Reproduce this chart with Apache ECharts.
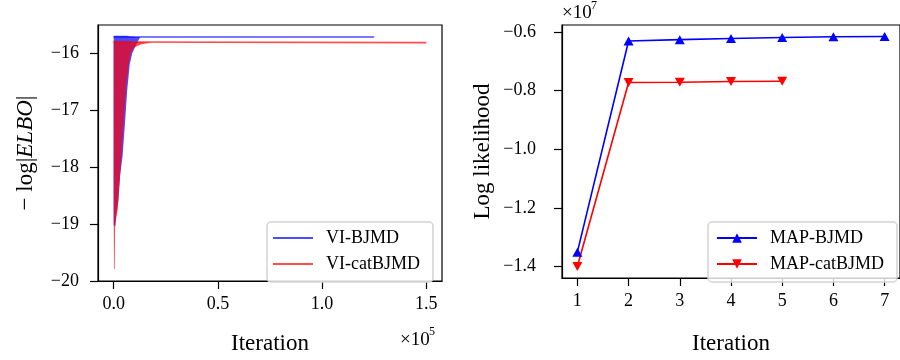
<!DOCTYPE html>
<html>
<head>
<meta charset="utf-8">
<script src="https://cdn.jsdelivr.net/npm/echarts@6/dist/echarts.min.js"></script>
<style>
  html, body { margin: 0; padding: 0; background: #fff; }
  #chart { width: 900px; height: 360px; }
</style>
</head>
<body>
<div id="chart"></div>
<script>
// ---- left panel: -log|ELBO| traces ----
var elboTicksX = [0, 50000, 100000, 150000];
var elboTicksY = [-20, -19, -18, -17, -16];

// noisy start: band between lower and upper envelope
var viBandIter  = [0, 800, 1300, 2200, 3100, 4300, 5400, 6500, 7700, 8900, 10500, 12500];
var viBandLow   = [-19.03, -19.03, -18.8, -18.6, -18.15, -17.8, -17.25, -16.65, -16.2, -16.0, -15.87, -15.73];
var viBandHigh  = [-15.69, -15.69, -15.69, -15.69, -15.69, -15.69, -15.69, -15.69, -15.7, -15.7, -15.71, -15.71];
var catBandIter = [0, 150, 500, 700, 1200, 2000, 2900, 4000, 5000, 6100, 7400, 8500, 10100, 13300, 18100];
var catBandLow  = [-18.4, -19.79, -19.79, -19.05, -18.9, -18.74, -18.24, -17.66, -17.1, -16.54, -16.14, -15.97, -15.89, -15.84, -15.81];
var catBandHigh = [-15.78, -15.78, -15.78, -15.78, -15.78, -15.78, -15.79, -15.79, -15.79, -15.79, -15.79, -15.8, -15.8, -15.8, -15.81];

// converged part
var viLineIter  = [0, 125000];
var viLineVal   = [-15.71, -15.71];
var catLineIter = [0, 150000];
var catLineVal  = [-15.8, -15.81];

// ---- right panel: MAP log likelihood ----
var mapTicksX = [1, 2, 3, 4, 5, 6, 7];
var mapTicksY = [-14000000, -12000000, -10000000, -8000000, -6000000];
var mapIterBJMD = [1, 2, 3, 4, 5, 6, 7];
var mapBJMD = [-13510000, -6306000, -6260000, -6220000, -6185000, -6163000, -6153000];
var mapIterCat = [1, 2, 3, 4, 5];
var mapCat = [-14000000, -7724000, -7714000, -7690000, -7680000];

var FONT = '"Liberation Serif", "Times New Roman", serif';
var BLUE_A = 'rgba(0,0,255,0.7)';
var RED_A = 'rgba(255,0,0,0.7)';

function minus(s) { return String(s).replace('-', '\u2212'); }
function pairs(xs, ys) { return xs.map(function (x, i) { return [x, ys[i]]; }); }

function bandSeries(xs, lo, hi, color) {
  return {
    type: 'custom',
    xAxisIndex: 0, yAxisIndex: 0,
    silent: true,
    clip: true,
    data: [0],
    renderItem: function (params, api) {
      var pts = [];
      for (var i = 0; i < xs.length; i++) pts.push(api.coord([xs[i], hi[i]]));
      for (var j = xs.length - 1; j >= 0; j--) pts.push(api.coord([xs[j], lo[j]]));
      return { type: 'polygon', shape: { points: pts }, style: { fill: color } };
    }
  };
}

function axisCommon(ticks, fmt, margin) {
  return {
    axisLine: { show: true, onZero: false, lineStyle: { color: '#000', width: 1.2 } },
    axisTick: { show: true, length: 8, customValues: ticks, lineStyle: { color: '#000', width: 1.2 } },
    axisLabel: { customValues: ticks, color: '#000', fontFamily: FONT, fontSize: 18, margin: margin, formatter: fmt },
    splitLine: { show: false }
  };
}

var chart = echarts.init(document.getElementById('chart'), null, { renderer: 'canvas' });

var nameStyle = { fontFamily: FONT, fontSize: 23, color: '#000' };

var xLeft = Object.assign(axisCommon(elboTicksX, function (v) { return (v / 1e5).toFixed(1); }, 14), {
  type: 'value', gridIndex: 0, min: -7500, max: 157500,
  name: 'Iteration', nameLocation: 'middle', nameGap: 51, nameTextStyle: nameStyle
});

var yLeft = Object.assign(axisCommon(elboTicksY, function (v) { return minus(v); }, 19), {
  type: 'value', gridIndex: 0, min: -20, max: -15.5,
  name: '\u2212 log|{it|ELBO}|', nameLocation: 'middle', nameGap: 61,
  nameTextStyle: {
    fontFamily: FONT, fontSize: 23, color: '#000',
    rich: { it: { fontFamily: FONT, fontSize: 23, fontStyle: 'italic', color: '#000' } }
  }
});

var xRight = Object.assign(axisCommon(mapTicksX, function (v) { return String(v); }, 14), {
  type: 'value', gridIndex: 1, min: 0.7, max: 7.3,
  name: 'Iteration', nameLocation: 'middle', nameGap: 54, nameTextStyle: nameStyle
});

var yRight = Object.assign(axisCommon(mapTicksY, function (v) { return minus((v / 1e7).toFixed(1)); }, 26), {
  type: 'value', gridIndex: 1, min: -14392000, max: -5761000,
  name: 'Log likelihood', nameLocation: 'middle', nameGap: 68, nameTextStyle: nameStyle
});

var legendBase = {
  orient: 'vertical',
  top: 222,
  itemWidth: 40,
  itemGap: 8,
  borderColor: '#d3d3d3',
  borderWidth: 1.5,
  borderRadius: 4,
  backgroundColor: 'rgba(255,255,255,0.8)',
  textStyle: { fontFamily: FONT, fontSize: 18, lineHeight: 18, color: '#000', padding: [0, 0, 0, 8] },
  selectedMode: false
};

chart.setOption({
  animation: false,
  backgroundColor: '#fff',
  grid: [
    { left: 98, top: 25, width: 344, height: 265.5, show: true, borderColor: '#000', borderWidth: 1.2, backgroundColor: 'transparent' },
    { left: 562, top: 25, width: 343, height: 265.5, show: true, borderColor: '#000', borderWidth: 1.2, backgroundColor: 'transparent' }
  ],
  xAxis: [xLeft, xRight],
  yAxis: [yLeft, yRight],
  legend: [
    Object.assign({}, legendBase, {
      left: 267, padding: [7, 13, 9, 6], itemHeight: 2,
      data: [{ name: 'VI-BJMD', icon: 'rect' }, { name: 'VI-catBJMD', icon: 'rect' }]
    }),
    Object.assign({}, legendBase, {
      left: 708, padding: [7, 13, 9, 8], itemHeight: 12,
      data: ['MAP-BJMD', 'MAP-catBJMD']
    })
  ],
  graphic: [
    { type: 'text', x: 400, y: 331, style: { text: '\u00d710', font: '19px ' + FONT, fill: '#000' } },
    { type: 'text', x: 429, y: 326, style: { text: '5', font: '12px ' + FONT, fill: '#000' } },
    { type: 'text', x: 562, y: 4, style: { text: '\u00d710', font: '19px ' + FONT, fill: '#000' } },
    { type: 'text', x: 591, y: 0, style: { text: '7', font: '12px ' + FONT, fill: '#000' } }
  ],
  series: [
    bandSeries(viBandIter, viBandLow, viBandHigh, BLUE_A),
    {
      name: 'VI-BJMD', type: 'line', xAxisIndex: 0, yAxisIndex: 0,
      data: pairs(viLineIter, viLineVal), symbol: 'none', silent: true,
      lineStyle: { color: BLUE_A, width: 1.6 }, itemStyle: { color: BLUE_A }
    },
    bandSeries(catBandIter, catBandLow, catBandHigh, RED_A),
    {
      name: 'VI-catBJMD', type: 'line', xAxisIndex: 0, yAxisIndex: 0,
      data: pairs(catLineIter, catLineVal), symbol: 'none', silent: true,
      lineStyle: { color: RED_A, width: 1.6 }, itemStyle: { color: RED_A }
    },
    {
      name: 'MAP-BJMD', type: 'line', xAxisIndex: 1, yAxisIndex: 1,
      data: pairs(mapIterBJMD, mapBJMD), symbol: 'triangle', symbolSize: [10, 9],
      showAllSymbol: true, clip: false,
      lineStyle: { color: '#0000ff', width: 1.6 }, itemStyle: { color: '#0000ff' }
    },
    {
      name: 'MAP-catBJMD', type: 'line', xAxisIndex: 1, yAxisIndex: 1,
      data: pairs(mapIterCat, mapCat), symbol: 'triangle', symbolRotate: 180, symbolSize: [10, 9],
      showAllSymbol: true, clip: false,
      lineStyle: { color: '#ff0000', width: 1.6 }, itemStyle: { color: '#ff0000' }
    }
  ]
});
</script>
</body>
</html>
